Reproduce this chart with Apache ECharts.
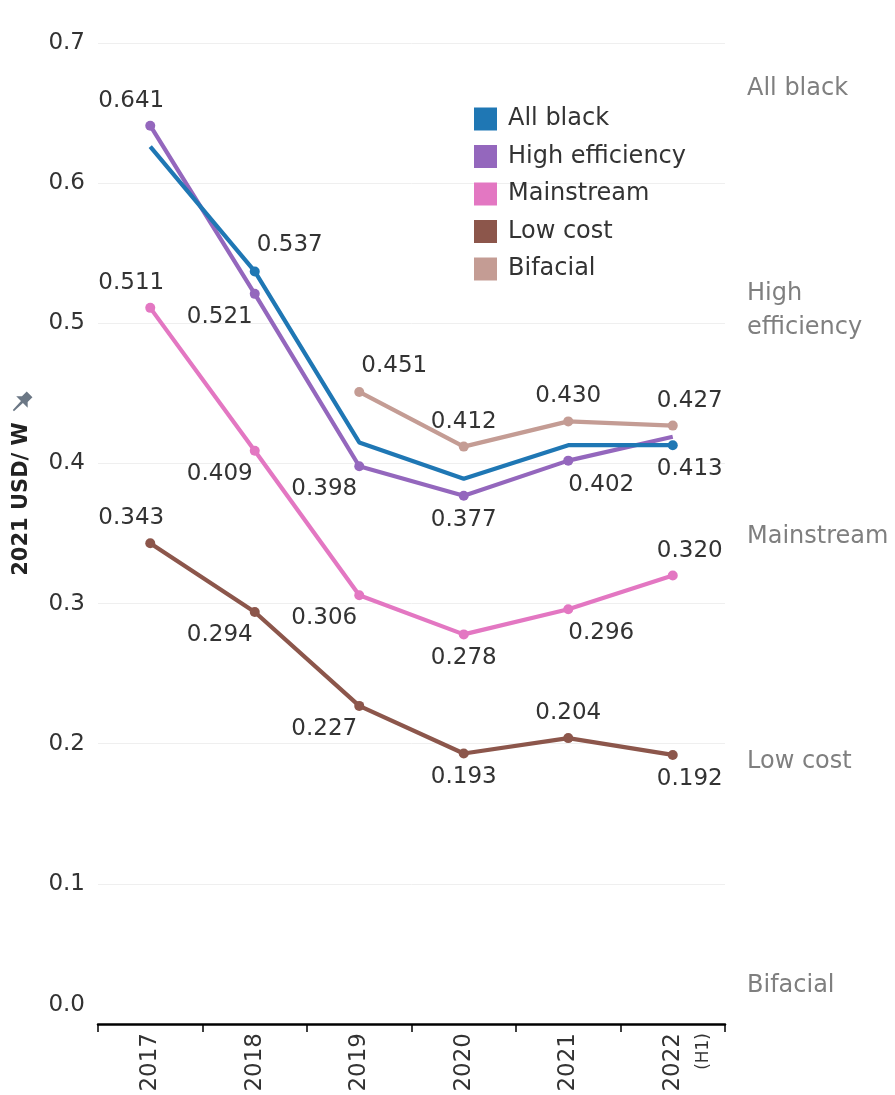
<!DOCTYPE html>
<html>
<head>
<meta charset="utf-8">
<script src="https://cdn.jsdelivr.net/npm/echarts@6/dist/echarts.min.js"></script>
<style>
  html, body { margin: 0; padding: 0; background: #fff; }
  #chart { width: 895px; height: 1095px; }
</style>
</head>
<body>
<div id="chart"></div>
<script>
// Module price by segment, 2021 USD per watt
const years = ['2017', '2018', '2019', '2020', '2021', '2022'];
const seriesNames = ['All black', 'High efficiency', 'Mainstream', 'Low cost', 'Bifacial'];
const allBlack       = [0.626, 0.537, 0.415, 0.389, 0.413, 0.413];
const highEfficiency = [0.641, 0.521, 0.398, 0.377, 0.402, 0.419];
const mainstream     = [0.511, 0.409, 0.306, 0.278, 0.296, 0.320];
const lowCost        = [0.343, 0.294, 0.227, 0.193, 0.204, 0.192];
const bifacial       = [null, null, 0.451, 0.412, 0.430, 0.427];

// Where each value label sits around its point (null = no label, no dot)
const labelPlacement = {
  'All black':       [null, 'tr', null, null, null, 'bEnd'],
  'High efficiency': ['tStart', 'bl', 'bl', 'b', 'br', null],
  'Mainstream':      ['tStart', 'bl', 'bl', 'b', 'br', 'tEnd'],
  'Low cost':        ['tStart', 'bl', 'bl', 'b', 't', 'bEnd'],
  'Bifacial':        [null, null, 'tr', 't', 't', 'tEnd']
};
const offsets = {
  t: [0, -25], b: [0, 24], bl: [-35, 23], br: [33, 24], tr: [35, -26],
  tStart: [-19, -25], tEnd: [17, -25], bEnd: [17, 24]
};
const colors = {
  'All black': '#1f77b4',
  'High efficiency': '#9467bd',
  'Mainstream': '#e377c2',
  'Low cost': '#8c564b',
  'Bifacial': '#c49c94'
};
const values = {
  'All black': allBlack,
  'High efficiency': highEfficiency,
  'Mainstream': mainstream,
  'Low cost': lowCost,
  'Bifacial': bifacial
};

const FONT = 'DejaVu Sans';
const TXT = '#333333';

function buildSeries(name) {
  const place = labelPlacement[name];
  return {
    name: name,
    type: 'line',
    connectNulls: false,
    lineStyle: { width: 4.2, color: colors[name] },
    itemStyle: { color: colors[name] },
    symbol: 'circle',
    emphasis: { disabled: true },
    data: values[name].map(function (v, i) {
      const p = place[i];
      return {
        value: v,
        symbolSize: p ? 10 : 0,
        label: p ? {
          show: true,
          position: 'inside',
          align: 'center',
          verticalAlign: 'middle',
          offset: offsets[p],
          formatter: function (d) { return Number(d.value).toFixed(3); },
          fontFamily: FONT,
          fontSize: 23,
          color: TXT
        } : { show: false }
      };
    })
  };
}

function sideLabel(text, y) {
  return {
    type: 'text', x: 747, y: y,
    style: { text: text, fontFamily: FONT, fontSize: 24, fill: '#7f7f7f', verticalAlign: 'middle' }
  };
}

const chart = echarts.init(document.getElementById('chart'));
chart.setOption({
  animation: false,
  backgroundColor: '#ffffff',
  grid: { left: 98, right: 170, top: 43, bottom: 71 },
  legend: {
    data: seriesNames,
    orient: 'vertical',
    left: 469,
    top: 102,
    icon: 'rect',
    itemWidth: 23,
    itemHeight: 23,
    itemGap: 13.5,
    textStyle: { fontFamily: FONT, fontSize: 24, color: TXT, padding: [0, 0, 0, 6] }
  },
  xAxis: {
    type: 'category',
    data: years,
    boundaryGap: true,
    axisLine: { lineStyle: { color: '#000', width: 2.5 } },
    axisTick: { show: true, length: 8, lineStyle: { color: '#000', width: 1.5 } },
    axisLabel: {
      rotate: 90,
      margin: 9,
      fontFamily: FONT,
      fontSize: 23,
      color: TXT,
      formatter: function (v) {
        return v === '2022' ? '{e|}\n{y|2022}\n{h|(H1)}' : v;
      },
      rich: {
        e: { lineHeight: 38, fontSize: 17 },
        y: { fontFamily: FONT, fontSize: 23, color: TXT, lineHeight: 24 },
        h: { fontFamily: FONT, fontSize: 17, color: TXT, lineHeight: 38 }
      }
    }
  },
  yAxis: {
    type: 'value',
    min: 0,
    max: 0.7,
    interval: 0.1,
    axisLine: { show: false },
    axisTick: { show: false },
    splitLine: { lineStyle: { color: '#efefef', width: 1 } },
    axisLabel: {
      margin: 13,
      fontFamily: FONT,
      fontSize: 23,
      color: TXT,
      formatter: function (v) {
        return v === 0 ? '{z|0.0}' : v.toFixed(1);
      },
      rich: {
        z: { fontFamily: FONT, fontSize: 23, color: TXT, padding: [0, 0, 38, 0] }
      }
    }
  },
  series: ['Bifacial', 'Low cost', 'Mainstream', 'High efficiency', 'All black'].map(buildSeries),
  graphic: [
    // vertical axis title
    {
      type: 'text',
      x: 22, y: 499,
      rotation: Math.PI / 2,
      style: {
        text: '2021 USD/ W',
        fontFamily: FONT, fontSize: 21, fontWeight: 'bold',
        fill: '#222', align: 'center', verticalAlign: 'middle'
      }
    },
    // pin marker next to the axis title
    {
      type: 'polygon',
      x: 21, y: 403,
      rotation: -Math.PI / 4,
      scaleX: 1.35, scaleY: 1.35,
      shape: {
        points: [[-3, -9], [3, -9], [3, -4], [6, -1], [1, -1], [0.6, 8], [-0.6, 8], [-1, -1], [-6, -1], [-3, -4]]
      },
      style: { fill: '#6b7785' }
    },
    // segment names on the right
    sideLabel('All black', 89),
    sideLabel('High', 294),
    sideLabel('efficiency', 328),
    sideLabel('Mainstream', 537),
    sideLabel('Low cost', 762),
    sideLabel('Bifacial', 986)
  ]
});
</script>
</body>
</html>
